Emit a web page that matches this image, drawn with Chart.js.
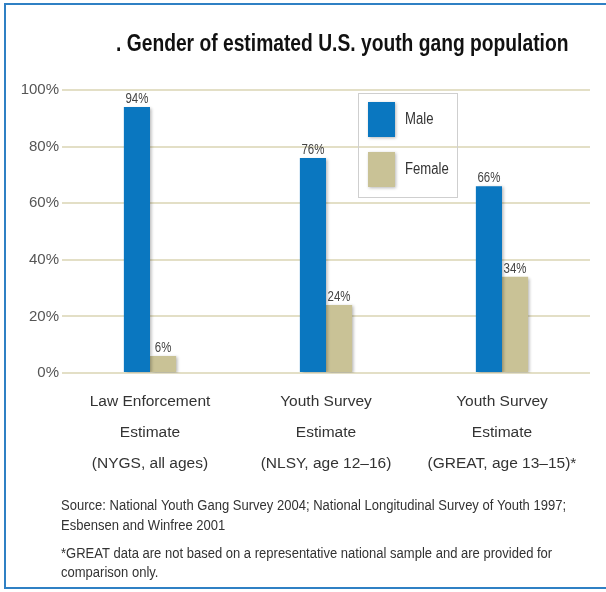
<!DOCTYPE html>
<html>
<head>
<meta charset="utf-8">
<script src="https://cdn.jsdelivr.net/npm/chart.js@4"></script>
<style>
    html, body { margin: 0; padding: 0; background: #fff; }
    #wrap { position: relative; width: 606px; height: 592px; overflow: hidden; }
    #frame {
        position: absolute; left: 4px; top: 3px; width: 620px; height: 582px;
        border: 2px solid #2f80c4; border-right: none;
    }
    #mainChart { position: absolute; left: 0; top: 0; }
</style>
</head>
<body>
<div id="wrap">
    <div id="frame"></div>
    <canvas id="mainChart" width="606" height="592"></canvas>
</div>
<script>
// данные
const categories = [
    ["Law Enforcement", "Estimate", "(NYGS, all ages)"],
    ["Youth Survey", "Estimate", "(NLSY, age 12\u201316)"],
    ["Youth Survey", "Estimate", "(GREAT, age 13\u201315)*"]
];
const maleValues = [94, 76, 66];
const femaleValues = [6, 24, 34];
const yTickValues = [0, 20, 40, 60, 80, 100];

const titleText = ". Gender of estimated U.S. youth gang population";
const sourceLines = [
    "Source: National Youth Gang Survey 2004; National Longitudinal Survey of Youth 1997;",
    "Esbensen and Winfree 2001"
];
const noteLines = [
    "*GREAT data are not based on a representative national sample and are provided for",
    "comparison only."
];

const FONT = "'Liberation Sans', Arial, sans-serif";

// текст с горизонтальным сжатием (как узкий шрифт)
function narrowText(c, text, x, y, sx = 0.82) {
    c.save();
    c.translate(x, y);
    c.scale(sx, 1);
    c.fillText(text, 0, 0);
    c.restore();
}

document.addEventListener("DOMContentLoaded", function () {
    const ctx = document.getElementById('mainChart').getContext('2d');

    // тень под столбиками
    const barShadow = {
        id: 'barShadow',
        beforeDatasetsDraw(chart) {
            const c = chart.ctx;
            c.save();
            c.shadowColor = 'rgba(0,0,0,0.28)';
            c.shadowBlur = 3;
            c.shadowOffsetX = 2;
            c.shadowOffsetY = 1;
        },
        afterDatasetsDraw(chart) {
            chart.ctx.restore();
        }
    };

    const extras = {
        id: 'extras',
        afterDatasetsDraw(chart) {
            const c = chart.ctx;
            c.save();
            // подписи значений
            c.font = "14px " + FONT;
            c.fillStyle = '#444';
            c.textAlign = 'center';
            c.textBaseline = 'bottom';
            chart.data.datasets.forEach((ds, i) => {
                chart.getDatasetMeta(i).data.forEach((bar, j) => {
                    narrowText(c, ds.data[j] + '%', bar.x, bar.y - 1);
                });
            });

            // легенда
            c.strokeStyle = '#cfcfcf';
            c.lineWidth = 1;
            c.strokeRect(358.5, 93.5, 99, 104);
            const swY = [102, 152];
            c.textAlign = 'left';
            c.textBaseline = 'middle';
            c.font = "16px " + FONT;
            chart.data.datasets.forEach((ds, i) => {
                c.save();
                c.shadowColor = 'rgba(0,0,0,0.28)';
                c.shadowBlur = 3;
                c.shadowOffsetX = 1;
                c.shadowOffsetY = 1;
                c.fillStyle = ds.backgroundColor;
                c.fillRect(368, swY[i], 27, 35);
                c.restore();
                c.fillStyle = '#333';
                narrowText(c, ds.label, 405, swY[i] + 18);
            });

            // заголовок
            c.fillStyle = '#111';
            c.font = "bold 23px " + FONT;
            c.textBaseline = 'alphabetic';
            narrowText(c, titleText, 116, 51, 0.837);

            // источник и примечание
            c.fillStyle = '#333';
            c.font = "15.5px " + FONT;
            narrowText(c, sourceLines[0], 61, 510, 0.84);
            narrowText(c, sourceLines[1], 61, 530, 0.84);
            narrowText(c, noteLines[0], 61, 558, 0.84);
            narrowText(c, noteLines[1], 61, 577, 0.84);
            c.restore();
        }
    };

    new Chart(ctx, {
        type: 'bar',
        data: {
            labels: categories,
            datasets: [{
                label: 'Male',
                data: maleValues,
                backgroundColor: '#0a77c0',
                categoryPercentage: 0.297,
                barPercentage: 1.0
            }, {
                label: 'Female',
                data: femaleValues,
                backgroundColor: '#c9c296',
                categoryPercentage: 0.297,
                barPercentage: 1.0
            }]
        },
        options: {
            responsive: false,
            animation: false,
            devicePixelRatio: 1,
            layout: { padding: { top: 90, right: 16, left: 0, bottom: 0 } },
            plugins: {
                legend: { display: false },
                title: { display: false },
                tooltip: { enabled: false }
            },
            scales: {
                x: {
                    grid: { display: false, drawTicks: false },
                    border: { display: false },
                    ticks: {
                        color: '#333',
                        padding: 13,
                        maxRotation: 0,
                        autoSkip: false,
                        font: { family: FONT, size: 15.5, lineHeight: 31 / 15.5 }
                    },
                    afterFit: s => { s.height = 219; }
                },
                y: {
                    min: 0,
                    max: 100,
                    afterBuildTicks: s => { s.ticks = yTickValues.map(v => ({ value: v })); },
                    grid: { color: '#e3dfc6', lineWidth: 2, drawTicks: false },
                    border: { display: false },
                    ticks: {
                        color: '#555',
                        padding: 3,
                        font: { family: FONT, size: 15 },
                        callback: v => v + '%'
                    },
                    afterFit: s => { s.width = 62; }
                }
            }
        },
        plugins: [barShadow, extras]
    });
});
</script>
</body>
</html>
